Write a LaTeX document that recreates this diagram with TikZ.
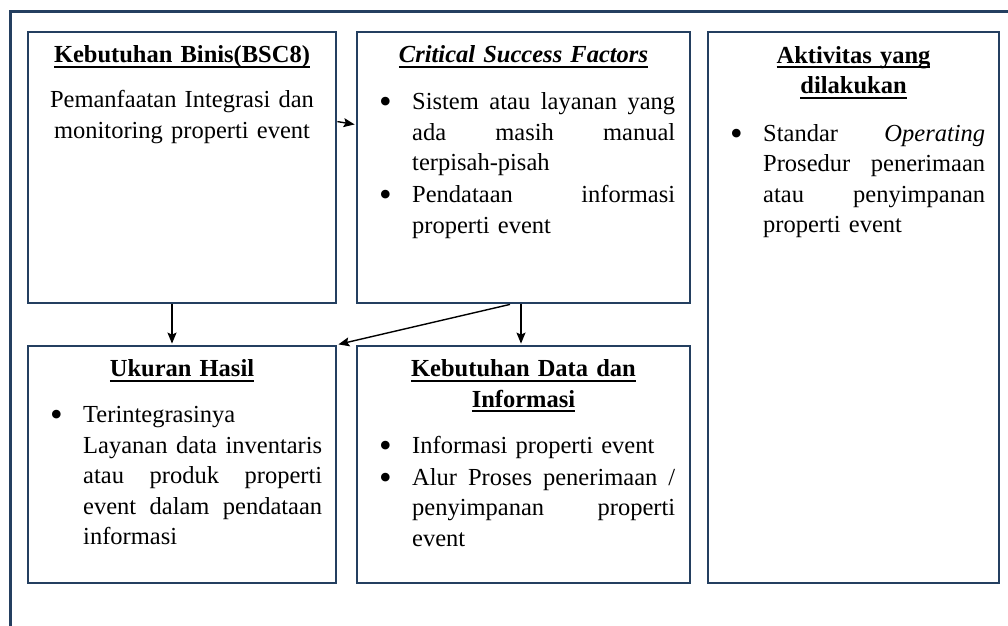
\documentclass[tikz,border=0pt]{standalone}
\usepackage{fontspec}
\setmainfont{Liberation Serif}
\usetikzlibrary{arrows.meta}
\definecolor{framenavy}{HTML}{243F60}

% type sizes used in the boxes
\newcommand\bodyfont{\fontsize{24.5}{30.6}\selectfont}
\newcommand\titlefont{\fontsize{24.5}{30.5}\selectfont\bfseries}
% underline at a fixed depth below the baseline
\newcommand\ulx[1]{\leavevmode\setbox0\hbox{#1}\rlap{\rule[-5.2pt]{\wd0}{2pt}}\box0}
% width of the text column of a bullet item
\newlength\itemw
% a justified line of a bullet item: the spaces share the spare width
\newcommand\J[1]{\hbox to \itemw{\spaceskip=.25em plus 1fil\xspaceskip=\spaceskip #1}}
% the bullet mark
\newcommand\bdot{\raisebox{-4pt}{\fontsize{36}{30}\selectfont\textbullet}}
% one bullet item with hanging indent
\newcommand\bpt[1]{\noindent\hangindent=33pt\hangafter=1\makebox[33pt][l]{\bdot}#1\par}

\begin{document}
\begin{tikzpicture}[x=1pt,y=-1pt,
  outer/.style={draw=framenavy, line width=3pt, rectangle, inner sep=0pt},
  box/.style={draw=framenavy, line width=2.8pt, rectangle, inner sep=0pt, fill=white},
  ttl/.style={font=\titlefont, inner sep=0pt, align=center, text width=300pt, anchor=base},
  cbody/.style={font=\bodyfont, inner sep=0pt, align=center, text width=300pt, anchor=base},
  body/.style={font=\bodyfont, inner sep=0pt, anchor=base west},
  arr/.style={-{Stealth[length=11pt,width=9pt,inset=2pt]}, line width=1.4pt, black, shorten >=1pt}]
\useasboundingbox (0,0) rectangle (1008,625);
\clip (0,0) rectangle (1008,625);

% page frame (runs past the right and bottom edges)
\node[outer, minimum width=1040pt, minimum height=660pt, anchor=north west] (page) at (9,10) {};

% boxes
\node[box, minimum width=308pt, minimum height=271pt] (b1) at (182,167.5) {};
\node[box, minimum width=333pt, minimum height=271pt] (b2) at (523.5,167.5) {};
\node[box, minimum width=291pt, minimum height=551pt] (b3) at (853.5,307.5) {};
\node[box, minimum width=308pt, minimum height=237pt] (b4) at (182,464.5) {};
\node[box, minimum width=333pt, minimum height=237pt] (b5) at (523.5,464.5) {};

% titles
\node[ttl] (b1t) at (182,62.5) {\ulx{Kebutuhan Binis(BSC8)}};
\node[ttl] (b2t) at (523.5,62.5) {\ulx{\itshape Critical Success Factors}};
\node[ttl] (b3t) at (853.5,63) {\ulx{Aktivitas yang}\\\ulx{dilakukan}};
\node[ttl] (b4t) at (182,376.7) {\ulx{Ukuran Hasil}};
\node[ttl] (b5t) at (523.5,376.7) {\ulx{Kebutuhan Data dan}\\\ulx{Informasi}};

% contents
\node[cbody] (b1x) at (182,107.5) {Pemanfaatan Integrasi dan\\monitoring properti event};
\node[body, text width=296pt] (b2x) at (379,109.5) {\setlength\parskip{1.5pt}\setlength\itemw{263pt}%
  \bpt{\J{Sistem atau layanan yang}\newline\J{ada masih manual}\newline terpisah-pisah}%
  \bpt{\J{Pendataan informasi}\newline properti event}};
\node[body, text width=255pt] (b3x) at (730,141) {\setlength\parskip{1.5pt}\setlength\itemw{222pt}%
  \bpt{\J{Standar \textit{Operating}}\newline\J{Prosedur penerimaan}\newline\J{atau penyimpanan}\newline properti event}};
\node[body, text width=272pt] (b4x) at (50,422.5) {\setlength\parskip{1.5pt}\setlength\itemw{239pt}%
  \bpt{Terintegrasinya\newline\J{Layanan data inventaris}\newline\J{atau produk properti}\newline\J{event dalam pendataan}\newline informasi}};
\node[body, text width=296pt] (b5x) at (379,453) {\setlength\parskip{1.5pt}\setlength\itemw{263pt}%
  \bpt{Informasi properti event}%
  \bpt{\J{Alur Proses penerimaan /}\newline\J{penyimpanan properti}\newline event}};

% connectors
\draw[arr] ([yshift=-91pt]b1.north east) -- ([yshift=-94pt]b2.north west);
\draw[arr] ([xshift=-10pt]b1.south) -- ([xshift=-10pt]b4.north);
\draw[arr] ([xshift=-13.5pt]b2.south) -- (b4.north east);
\draw[arr] ([xshift=-2.5pt]b2.south) -- ([xshift=-2.5pt]b5.north);
\end{tikzpicture}
\end{document}
